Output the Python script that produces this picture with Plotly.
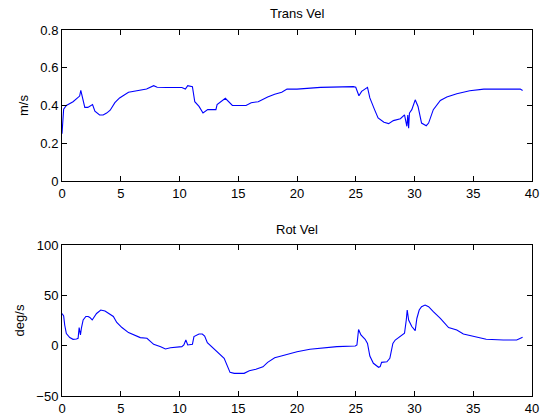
import plotly.graph_objects as go

# ---- data ----
trans_t = [0, 0.14, 0.37, 0.94, 1.5, 1.6, 1.94, 2.2, 2.6, 2.8, 3.2, 3.5, 3.8, 4.1, 4.5, 4.9,
           5.66, 6.4, 7.2, 7.8, 8.1, 8.9, 10.2, 10.5, 10.7, 11.1, 11.3, 11.66, 12.0, 12.4,
           13.1, 13.2, 13.66, 13.9, 14.5, 15.66, 16.1, 16.7, 17.5, 18.1, 18.7, 19.15, 20.0,
           22.0, 24.8, 25.0, 25.27, 25.5, 26.0, 26.2, 26.6, 26.9, 27.4, 27.8, 28.2, 28.8,
           29.15, 29.35, 29.43, 29.5, 29.57, 29.77, 30.06, 30.3, 30.6, 31.0, 31.2, 31.6,
           32.2, 32.75, 33.6, 34.7, 35.9, 37.6, 39.0, 39.2]
trans_v = [0.25, 0.38, 0.40, 0.42, 0.45, 0.48, 0.39, 0.39, 0.405, 0.37, 0.35, 0.35, 0.36, 0.375,
           0.415, 0.44, 0.47, 0.48, 0.487, 0.505, 0.497, 0.495, 0.495, 0.487, 0.505, 0.50,
           0.42, 0.395, 0.36, 0.378, 0.378, 0.405, 0.43, 0.438, 0.40, 0.40, 0.415, 0.42,
           0.445, 0.46, 0.47, 0.487, 0.487, 0.496, 0.50, 0.497, 0.452, 0.475, 0.496, 0.44,
           0.378, 0.334, 0.311, 0.304, 0.32, 0.33, 0.35, 0.29, 0.35, 0.28, 0.36, 0.378,
           0.43, 0.395, 0.307, 0.293, 0.307, 0.378, 0.427, 0.445, 0.462, 0.478, 0.487,
           0.487, 0.487, 0.48]

rot_t = [0, 0.14, 0.23, 0.37, 0.66, 0.94, 1.23, 1.37, 1.46, 1.57, 1.66, 1.8, 2.03, 2.23, 2.37,
         2.57, 2.94, 3.3, 3.66, 4.1, 4.37, 4.66, 5.1, 5.66, 6.37, 6.66, 7.23, 7.5, 7.8, 8.4,
         8.8, 9.23, 10.2, 10.37, 10.54, 10.7, 11.1, 11.23, 11.66, 11.94, 12.14, 12.37, 12.8,
         13.23, 13.8, 14.3, 14.66, 15.5, 15.94, 16.5, 17.1, 17.5, 18.1, 18.66, 20.0, 21.1,
         22.8, 23.4, 24.96, 25.1, 25.24, 25.44, 25.8, 26.0, 26.2, 26.5, 26.94, 27.08, 27.2,
         27.65, 27.9, 28.16, 28.36, 28.9, 29.15, 29.3, 29.38, 29.5, 29.77, 30.06, 30.2, 30.4,
         30.6, 30.9, 31.2, 31.6, 32.2, 32.9, 33.6, 34.16, 35.0, 36.1, 37.56, 38.7, 39.2]
rot_v = [32, 29.5, 20.5, 12, 8, 6.3, 6.6, 7.3, 18, 10.6, 18, 25.5, 29, 29, 28, 25.5, 32, 35.4,
         34.4, 31.5, 29, 23, 18, 13, 9.6, 8, 7.3, 4, 1.3, -1, -3.3, -2, -1, 0.7, 5.6, 0.7, 1.3,
         9, 11.6, 11.6, 9.6, 3, -2, -6, -12.6, -26.5, -27.5, -27.5, -25, -23.5, -21, -16.6,
         -12, -10.3, -6, -3.6, -1.6, -1, -0.3, 0.7, 16, 10.6, 6.3, 2.3, -10.3, -17.5, -21.5,
         -20.8, -16.6, -16, -12.6, 2.3, 5.6, 9.6, 12.3, 25.5, 35.4, 25.5, 19, 15, 27, 35.4,
         38.7, 40.4, 38.7, 33.8, 27, 18, 15.5, 11.6, 9, 6.3, 5.6, 5.6, 8.3]

x_ticks = [0, 5, 10, 15, 20, 25, 30, 35, 40]
trans_ticks = [0, 0.2, 0.4, 0.6, 0.8]
rot_ticks = [-50, 0, 50, 100]

FONT = "Liberation Sans, Arial, sans-serif"
LINE = dict(color="#0000ff", width=1.1)

fig = go.Figure()
fig.add_trace(go.Scatter(x=trans_t, y=trans_v, mode="lines", line=LINE, xaxis="x", yaxis="y"))
fig.add_trace(go.Scatter(x=rot_t, y=rot_v, mode="lines", line=LINE, xaxis="x2", yaxis="y2"))

axis_common = dict(showline=True, linecolor="black", linewidth=1, mirror="ticks",
                   ticks="inside", ticklen=5, tickcolor="black", showgrid=False,
                   zeroline=False, automargin=False,
                   tickfont=dict(family=FONT, size=13, color="black"))

fig.update_layout(
    width=548, height=419,
    margin=dict(l=62, r=16, t=30, b=23),
    paper_bgcolor="white", plot_bgcolor="white",
    showlegend=False,
    font=dict(family=FONT, size=12, color="black"),
    xaxis=dict(domain=[0, 1], range=[0, 40], tickvals=x_ticks, anchor="y", **axis_common),
    yaxis=dict(domain=[0.5874, 1], range=[0, 0.8], tickvals=trans_ticks,
               anchor="x", title=dict(text="m/s", standoff=8,
                                      font=dict(family=FONT, size=13)), **axis_common),
    xaxis2=dict(domain=[0, 1], range=[0, 40], tickvals=x_ticks, anchor="y2", **axis_common),
    yaxis2=dict(domain=[0, 0.4126], range=[-50, 100], tickvals=rot_ticks, anchor="x2",
                title=dict(text="deg/s", standoff=8, font=dict(family=FONT, size=13)),
                **axis_common),
    annotations=[
        dict(text="Trans Vel", x=0.5, y=1.046, xref="paper", yref="paper",
             showarrow=False, font=dict(family=FONT, size=13), yanchor="middle"),
        dict(text="Rot Vel", x=0.5, y=0.456, xref="paper", yref="paper",
             showarrow=False, font=dict(family=FONT, size=13), yanchor="middle"),
    ],
)

fig.write_html("out.html")
